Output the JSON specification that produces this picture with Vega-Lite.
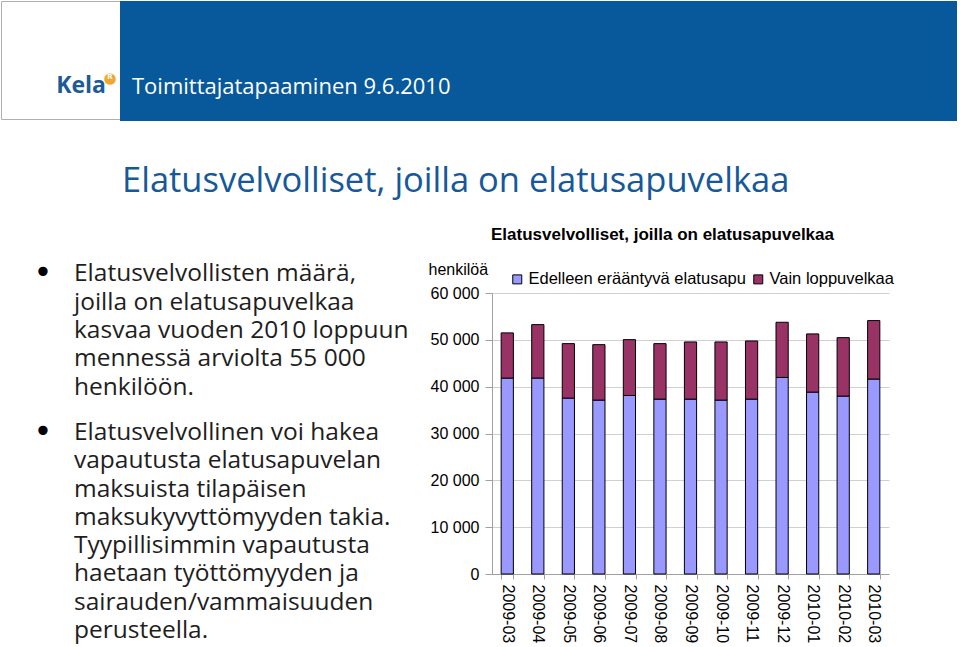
{
  "$schema": "https://vega.github.io/schema/vega-lite/v6.json",
  "padding": 0,
  "background": "#ffffff",
  "config": {"view": {"stroke": null}, "font": "Liberation Sans"},
  "vconcat": [
    {
      "hconcat": [
        {
          "width": 119,
          "height": 118,
          "view": {"stroke": "#b0b0b0", "fill": "#ffffff"},
          "title": {"text": "Kela", "orient": "bottom", "anchor": "end", "frame": "group", "offset": -26, "baseline": "alphabetic", "dx": -14, "font": "Open Sans", "fontSize": 23, "fontWeight": "bold", "color": "#1d5b98"},
          "data": {"values": [{"merkki": "●", "kirjain": "R"}]},
          "encoding": {
            "x": {"datum": 1, "type": "quantitative", "scale": {"domain": [0, 1]}, "axis": null},
            "y": {"datum": 1, "type": "quantitative", "scale": {"domain": [0, 1]}, "axis": null}
          },
          "layer": [
            {"mark": {"type": "text", "dx": -10, "dy": 77, "fontSize": 15, "color": "#f2a72e", "font": "DejaVu Sans"}, "encoding": {"text": {"field": "merkki"}}},
            {"mark": {"type": "text", "dx": -10, "dy": 76, "fontSize": 7, "fontWeight": "bold", "color": "#ffffff", "font": "DejaVu Sans"}, "encoding": {"text": {"field": "kirjain"}}}
          ]
        },
        {
          "width": 837,
          "height": 120,
          "view": {"fill": "#08599b", "stroke": null},
          "title": {"text": "Toimittajatapaaminen 9.6.2010", "orient": "bottom", "anchor": "start", "frame": "group", "offset": -27, "baseline": "alphabetic", "dx": 12, "font": "Open Sans", "fontSize": 22, "fontWeight": "normal", "color": "#ffffff"},
          "data": {"values": [{"tyhja": ""}]},
          "mark": {"type": "text"},
          "encoding": {"text": {"field": "tyhja"}}
        }
      ],
      "spacing": 0,
      "bounds": "flush"
    },
    {
      "hconcat": [
        {
          "width": 491,
          "height": 281,
          "title": {"text": "Elatusvelvolliset, joilla on elatusapuvelkaa", "orient": "top", "anchor": "start", "frame": "group", "offset": 31, "baseline": "alphabetic", "dx": 121, "font": "Open Sans", "fontSize": 34.5, "fontWeight": "normal", "color": "#15599a"},
          "data": {"values": [
            {"rivi": 0, "teksti": "Elatusvelvollisten määrä,", "luetelma": "•"},
            {"rivi": 1, "teksti": "joilla on elatusapuvelkaa", "luetelma": ""},
            {"rivi": 2, "teksti": "kasvaa vuoden 2010 loppuun", "luetelma": ""},
            {"rivi": 3, "teksti": "mennessä arviolta 55 000", "luetelma": ""},
            {"rivi": 4, "teksti": "henkilöön.", "luetelma": ""},
            {"rivi": 5.6, "teksti": "Elatusvelvollinen voi hakea", "luetelma": "•"},
            {"rivi": 6.6, "teksti": "vapautusta elatusapuvelan", "luetelma": ""},
            {"rivi": 7.6, "teksti": "maksuista tilapäisen", "luetelma": ""},
            {"rivi": 8.6, "teksti": "maksukyvyttömyyden takia.", "luetelma": ""},
            {"rivi": 9.6, "teksti": "Tyypillisimmin vapautusta", "luetelma": ""},
            {"rivi": 10.6, "teksti": "haetaan työttömyyden ja", "luetelma": ""},
            {"rivi": 11.6, "teksti": "sairauden/vammaisuuden", "luetelma": ""},
            {"rivi": 12.6, "teksti": "perusteella.", "luetelma": ""}
          ]},
          "encoding": {
            "x": {"datum": 0, "type": "quantitative", "scale": {"domain": [0, 1]}, "axis": null},
            "y": {"field": "rivi", "type": "quantitative", "scale": {"domain": [0.41, 10.338], "reverse": true, "zero": false, "nice": false}, "axis": null}
          },
          "layer": [
            {"mark": {"type": "text", "align": "left", "baseline": "alphabetic", "dx": 73, "font": "Open Sans", "fontSize": 24.5, "color": "#1e1e1e"}, "encoding": {"text": {"field": "teksti"}}},
            {"mark": {"type": "text", "align": "center", "baseline": "alphabetic", "dx": 42, "dy": 2, "font": "DejaVu Sans", "fontSize": 32, "color": "#000000"}, "encoding": {"text": {"field": "luetelma"}}}
          ]
        },
        {
          "width": 397,
          "height": 281,
          "title": {"text": "Elatusvelvolliset, joilla on elatusapuvelkaa", "anchor": "middle", "frame": "group", "orient": "top", "offset": 4, "baseline": "alphabetic", "dx": -28, "font": "Liberation Sans", "fontSize": 17, "fontWeight": "bold", "color": "#000000"},
          "data": {"values": [
            {"kuukausi": "2009-03", "sarja": "Edelleen erääntyvä elatusapu", "arvo": 41840},
            {"kuukausi": "2009-03", "sarja": "Vain loppuvelkaa", "arvo": 9640},
            {"kuukausi": "2009-04", "sarja": "Edelleen erääntyvä elatusapu", "arvo": 41840},
            {"kuukausi": "2009-04", "sarja": "Vain loppuvelkaa", "arvo": 11410},
            {"kuukausi": "2009-05", "sarja": "Edelleen erääntyvä elatusapu", "arvo": 37560},
            {"kuukausi": "2009-05", "sarja": "Vain loppuvelkaa", "arvo": 11630},
            {"kuukausi": "2009-06", "sarja": "Edelleen erääntyvä elatusapu", "arvo": 37130},
            {"kuukausi": "2009-06", "sarja": "Vain loppuvelkaa", "arvo": 11840},
            {"kuukausi": "2009-07", "sarja": "Edelleen erääntyvä elatusapu", "arvo": 38120},
            {"kuukausi": "2009-07", "sarja": "Vain loppuvelkaa", "arvo": 11920},
            {"kuukausi": "2009-08", "sarja": "Edelleen erääntyvä elatusapu", "arvo": 37340},
            {"kuukausi": "2009-08", "sarja": "Vain loppuvelkaa", "arvo": 11850},
            {"kuukausi": "2009-09", "sarja": "Edelleen erääntyvä elatusapu", "arvo": 37340},
            {"kuukausi": "2009-09", "sarja": "Vain loppuvelkaa", "arvo": 12210},
            {"kuukausi": "2009-10", "sarja": "Edelleen erääntyvä elatusapu", "arvo": 37130},
            {"kuukausi": "2009-10", "sarja": "Vain loppuvelkaa", "arvo": 12420},
            {"kuukausi": "2009-11", "sarja": "Edelleen erääntyvä elatusapu", "arvo": 37340},
            {"kuukausi": "2009-11", "sarja": "Vain loppuvelkaa", "arvo": 12420},
            {"kuukausi": "2009-12", "sarja": "Edelleen erääntyvä elatusapu", "arvo": 41970},
            {"kuukausi": "2009-12", "sarja": "Vain loppuvelkaa", "arvo": 11780},
            {"kuukausi": "2010-01", "sarja": "Edelleen erääntyvä elatusapu", "arvo": 38840},
            {"kuukausi": "2010-01", "sarja": "Vain loppuvelkaa", "arvo": 12420},
            {"kuukausi": "2010-02", "sarja": "Edelleen erääntyvä elatusapu", "arvo": 37990},
            {"kuukausi": "2010-02", "sarja": "Vain loppuvelkaa", "arvo": 12480},
            {"kuukausi": "2010-03", "sarja": "Edelleen erääntyvä elatusapu", "arvo": 41630},
            {"kuukausi": "2010-03", "sarja": "Vain loppuvelkaa", "arvo": 12480}
          ]},
          "mark": {"type": "bar", "stroke": "#000000", "strokeWidth": 1},
          "encoding": {
            "x": {
              "field": "kuukausi", "type": "ordinal",
              "scale": {"paddingInner": 0.6, "paddingOuter": 0.3},
              "axis": {"title": null, "labelAngle": 90, "labelAlign": "left", "labelBaseline": "middle", "labelFont": "Liberation Sans", "labelFontSize": 16, "labelColor": "#000000", "labelPadding": 5, "domainColor": "#a0a0a0", "tickColor": "#a0a0a0", "tickSize": 5, "tickBand": "extent"}
            },
            "y": {
              "field": "arvo", "type": "quantitative", "stack": "zero",
              "scale": {"domain": [0, 60000], "nice": false},
              "axis": {"title": "henkilöä", "values": [0, 10000, 20000, 30000, 40000, 50000, 60000], "labelExpr": "replace(format(datum.value, ',d'), ',', ' ')", "labelFont": "Liberation Sans", "labelFontSize": 16, "labelColor": "#000000", "labelPadding": 6, "tickSize": 7, "tickColor": "#a0a0a0", "domainColor": "#a0a0a0", "gridColor": "#d0d0d0", "titleAngle": 0, "titleAlign": "left", "titleBaseline": "alphabetic", "titleX": -64, "titleY": -19, "titleFont": "Liberation Sans", "titleFontSize": 16, "titleFontWeight": "normal", "titleColor": "#000000"}
            },
            "color": {
              "field": "sarja", "type": "nominal",
              "scale": {"domain": ["Edelleen erääntyvä elatusapu", "Vain loppuvelkaa"], "range": ["#9999ff", "#993366"]},
              "legend": {"orient": "none", "legendX": 17, "legendY": -22, "direction": "horizontal", "title": null, "symbolType": "square", "symbolSize": 81, "symbolStrokeColor": "#000000", "symbolStrokeWidth": 1, "symbolOpacity": 1, "labelFont": "Liberation Sans", "labelFontSize": 16.5, "labelColor": "#000000", "labelLimit": 400, "labelOffset": 3, "columnPadding": 4}
            },
            "order": {"field": "sarja", "sort": "ascending"}
          }
        }
      ],
      "spacing": 0,
      "bounds": "flush",
      "resolve": {"scale": {"color": "independent"}, "legend": {"color": "independent"}}
    }
  ],
  "spacing": 292,
  "bounds": "flush",
  "resolve": {"scale": {"color": "independent"}, "legend": {"color": "independent"}}
}
